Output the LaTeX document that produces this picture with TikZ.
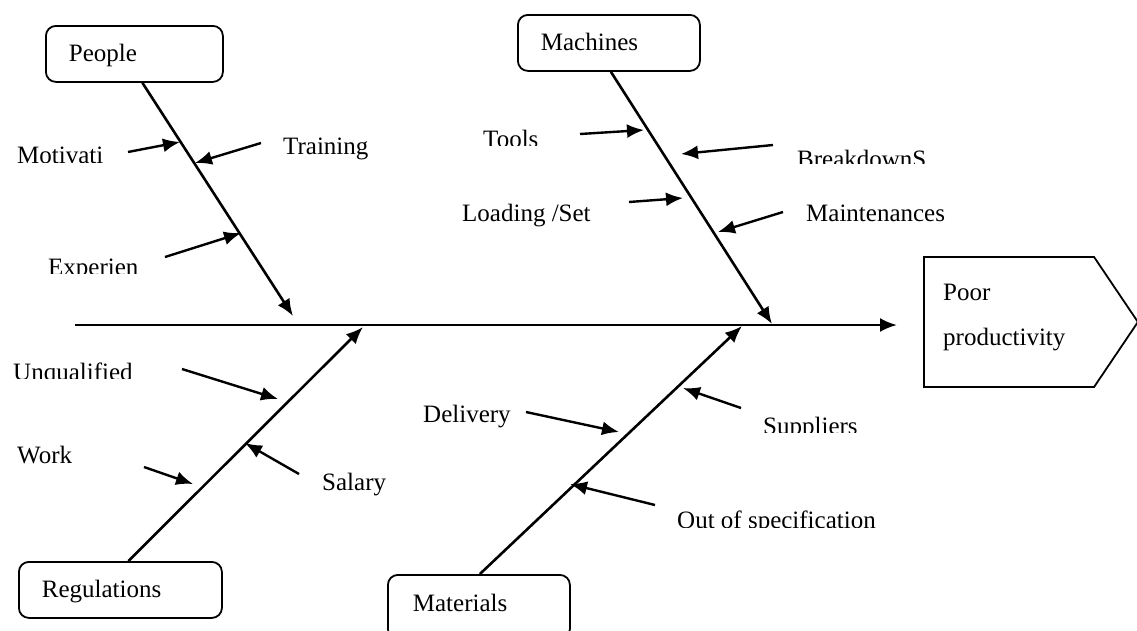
\documentclass[tikz,border=0pt]{standalone}
\usepackage{fontspec}
\setmainfont{Liberation Serif}
\usepackage{tikz}
\usetikzlibrary{arrows.meta,shapes,positioning,calc}

% factor text whose lower edge is cut off at a given height
\newcommand{\cutfactor}[5]{%
  \begin{scope}
    \clip (0,0) rectangle (1137,#4);
    \node[factor] (#1) at (#2,#3) {#5};
  \end{scope}}

\begin{document}
\begin{tikzpicture}[
  x=1pt, y=-1pt,
  >={Latex[length=17pt,width=14pt]},
  every node/.style={font=\fontsize{25}{30}\selectfont},
  cause/.style={
    draw, rounded corners=10pt, line width=1.8pt,
    inner xsep=23pt, inner ysep=0pt, align=left, anchor=north west,
    minimum height=56pt, text height=17pt, text depth=2pt
  },
  effect/.style={
    draw, signal, signal to=east, signal pointer angle=112,
    line width=1.8pt, minimum width=214pt, minimum height=130pt,
    anchor=west, inner sep=0pt
  },
  factor/.style={anchor=base west, inner sep=0pt},
  spine/.style={->, line width=2.6pt},
  bone/.style={->, line width=2.4pt}
]
\useasboundingbox (0,0) rectangle (1137,630);

% --- Cause boxes ---
\node[cause, text width=131pt] (people) at (45,25) {People};
\node[cause, text width=136pt] (machines) at (517,14) {Machines};
\node[cause, text width=157pt] (regulations) at (18,561) {Regulations};
\node[cause, text width=132pt, inner xsep=25pt, minimum height=64pt,
  text depth=8pt] (materials) at (387,574) {Materials};

% --- Effect ---
\node[effect] (effect) at (923,322) {};
\node[factor] (poor) at (943,300) {Poor};
\node[factor] (productivity) at (943,345) {productivity};

% --- Main line and spines ---
\coordinate (tail) at (75,325);
\coordinate (head) at (897,325);
\draw[spine] (tail) -- (head);

\coordinate (peopletip) at (293,316);
\coordinate (machinestip) at (772,324);
\coordinate (regulationstip) at (363,327);
\coordinate (materialstip) at (742,326);
\draw[spine] ([xshift=8pt]people.south) -- (peopletip);
\draw[spine] ([xshift=2pt]machines.south) -- (machinestip);
\draw[spine] ([xshift=8pt]regulations.north) -- (regulationstip);
\draw[spine] ([xshift=1pt]materials.north) -- (materialstip);

% --- People ---
\cutfactor{motivati}{17}{163}{162}{Motivati}
\node[factor] (training) at (283,154) {Training};
\cutfactor{experien}{48}{275}{273}{Experien}
\coordinate (motivA) at (128,152);   \coordinate (motivB) at (180,142);
\coordinate (trainA) at (261,143);   \coordinate (trainB) at (195,163);
\coordinate (experA) at (165,257);   \coordinate (experB) at (241,233);
\draw[bone] (motivA) -- (motivB);
\draw[bone] (trainA) -- (trainB);
\draw[bone] (experA) -- (experB);

% --- Machines ---
\cutfactor{tools}{483}{147}{145}{Tools}
\cutfactor{breakdowns}{797}{167}{163}{BreakdownS}
\node[factor] (loading) at (462,221) {Loading /Set};
\node[factor] (maintenances) at (806,221) {Maintenances};
\coordinate (toolsA) at (580,134);   \coordinate (toolsB) at (644,130);
\coordinate (breakA) at (773,145);   \coordinate (breakB) at (681,154);
\coordinate (loadA) at (629,202);    \coordinate (loadB) at (683,198);
\coordinate (maintA) at (783,212);   \coordinate (maintB) at (718,232);
\draw[bone] (toolsA) -- (toolsB);
\draw[bone] (breakA) -- (breakB);
\draw[bone] (loadA) -- (loadB);
\draw[bone] (maintA) -- (maintB);

% --- Regulations ---
\cutfactor{unqualified}{13}{380}{378}{Unqualified}
\node[factor] (work) at (17,463) {Work};
\node[factor] (salary) at (322,490) {Salary};
\coordinate (unqualA) at (182,369);  \coordinate (unqualB) at (278,399);
\coordinate (workA) at (144,467);    \coordinate (workB) at (193,484);
\coordinate (salaryA) at (299,474);  \coordinate (salaryB) at (245,443);
\draw[bone] (unqualA) -- (unqualB);
\draw[bone] (workA) -- (workB);
\draw[bone] (salaryA) -- (salaryB);

% --- Materials ---
\node[factor] (delivery) at (423,422) {Delivery};
\cutfactor{suppliers}{763}{434}{432}{Suppliers}
\cutfactor{outofspec}{677}{528}{527}{Out of specification}
\coordinate (delivA) at (526,412);   \coordinate (delivB) at (619,432);
\coordinate (supplA) at (741,408);   \coordinate (supplB) at (683,388);
\coordinate (specA) at (655,505);    \coordinate (specB) at (570,484);
\draw[bone] (delivA) -- (delivB);
\draw[bone] (supplA) -- (supplB);
\draw[bone] (specA) -- (specB);

\end{tikzpicture}
\end{document}
